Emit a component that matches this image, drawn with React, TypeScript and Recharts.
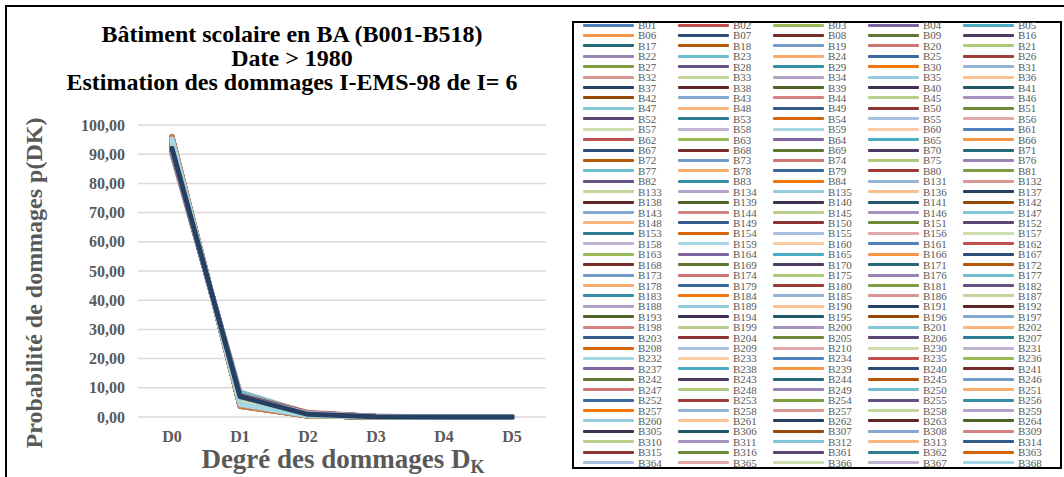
import { LineChart, Line, XAxis, YAxis, CartesianGrid } from "recharts";

const categories = ["D0", "D1", "D2", "D3", "D4", "D5"];

const buildingNames = [
  "B01", "B02", "B03", "B04", "B05",
  "B06", "B07", "B08", "B09", "B16",
  "B17", "B18", "B19", "B20", "B21",
  "B22", "B23", "B24", "B25", "B26",
  "B27", "B28", "B29", "B30", "B31",
  "B32", "B33", "B34", "B35", "B36",
  "B37", "B38", "B39", "B40", "B41",
  "B42", "B43", "B44", "B45", "B46",
  "B47", "B48", "B49", "B50", "B51",
  "B52", "B53", "B54", "B55", "B56",
  "B57", "B58", "B59", "B60", "B61",
  "B62", "B63", "B64", "B65", "B66",
  "B67", "B68", "B69", "B70", "B71",
  "B72", "B73", "B74", "B75", "B76",
  "B77", "B78", "B79", "B80", "B81",
  "B82", "B83", "B84", "B131", "B132",
  "B133", "B134", "B135", "B136", "B137",
  "B138", "B139", "B140", "B141", "B142",
  "B143", "B144", "B145", "B146", "B147",
  "B148", "B149", "B150", "B151", "B152",
  "B153", "B154", "B155", "B156", "B157",
  "B158", "B159", "B160", "B161", "B162",
  "B163", "B164", "B165", "B166", "B167",
  "B168", "B169", "B170", "B171", "B172",
  "B173", "B174", "B175", "B176", "B177",
  "B178", "B179", "B180", "B181", "B182",
  "B183", "B184", "B185", "B186", "B187",
  "B188", "B189", "B190", "B191", "B192",
  "B193", "B194", "B195", "B196", "B197",
  "B198", "B199", "B200", "B201", "B202",
  "B203", "B204", "B205", "B206", "B207",
  "B208", "B209", "B210", "B230", "B231",
  "B232", "B233", "B234", "B235", "B236",
  "B237", "B238", "B239", "B240", "B241",
  "B242", "B243", "B244", "B245", "B246",
  "B247", "B248", "B249", "B250", "B251",
  "B252", "B253", "B254", "B255", "B256",
  "B257", "B258", "B257", "B258", "B259",
  "B260", "B261", "B262", "B263", "B264",
  "B305", "B306", "B307", "B308", "B309",
  "B310", "B311", "B312", "B313", "B314",
  "B315", "B316", "B361", "B362", "B363",
  "B364", "B365", "B366", "B367", "B368",
];

// one value per building, in legend order
const d0Values = [
  93.1, 94.2, 92.8, 96.0, 91.9, 93.7, 92.4, 94.9, 93.3, 95.1, 92.6, 94.4, 91.4, 95.8, 95.9,
  92.9, 90.0, 89.9, 91.7, 95.3, 92.2, 94.0, 93.9, 95.8, 92.5, 93.2, 94.7, 91.2, 93.6, 95.4,
  92.7, 94.3, 93.0, 95.0, 92.1, 93.4, 94.8, 91.6, 93.9, 95.2, 92.3, 94.1, 93.7, 91.1, 95.7,
  93.3, 92.0, 94.5, 95.5, 92.9, 93.1, 94.9, 91.8, 93.5, 96.0, 92.6, 94.2, 93.0, 95.2, 91.5,
  94.0, 92.8, 93.6, 95.4, 91.3, 94.6, 93.2, 92.4, 95.8, 93.9, 90.2, 94.3, 93.4, 91.9, 95.1,
  92.5, 94.8, 93.7, 91.0, 95.6, 93.1, 94.1, 92.7, 93.8, 95.3, 91.7, 94.5, 92.3, 93.5, 96.1,
  93.0, 94.7, 92.0, 95.0, 93.3, 91.4, 94.2, 93.6, 95.7, 92.8, 94.0, 91.6, 93.9, 95.5, 92.4,
  94.4, 93.2, 91.8, 95.2, 92.6, 93.7, 94.9, 92.1, 95.9, 93.4, 91.2, 94.6, 93.0, 95.3, 92.9,
  93.8, 91.5, 94.3, 95.6, 92.7, 93.1, 94.8, 91.9, 93.5, 95.1, 92.2, 94.1, 93.6, 90.9, 95.4,
  92.5, 94.0, 93.3, 95.8, 91.7, 93.9, 94.5, 92.3, 95.0, 93.2, 91.3, 94.7, 92.8, 93.7, 96.0,
  93.4, 92.0, 94.2, 95.5, 91.6, 93.0, 94.9, 92.6, 95.2, 93.8, 91.9, 94.4, 93.1, 95.7, 92.4,
  94.6, 93.5, 91.4, 95.3, 92.9, 93.6, 94.1, 92.2, 95.9, 93.3, 91.8, 94.8, 92.7, 93.9, 95.1,
  92.3, 94.3, 93.7, 91.1, 95.6, 93.2, 94.0, 92.5, 95.4, 93.0, 91.5, 94.5, 92.0, 93.8, 95.0,
  92.8, 94.7, 93.4, 91.7, 95.8, 93.1, 94.2, 92.0, 95.2, 93.6, 91.3, 94.9, 92.6, 93.5, 95.5,
  92.1, 94.4, 93.9, 91.6, 95.3,
];

const d1Values = [
  5.9, 5.1, 6.1, 3.7, 6.6, 5.4, 6.3, 4.5, 5.7, 4.5, 6.3, 4.9, 7.0, 3.9, 3.8,
  6.0, 8.6, 8.4, 6.8, 4.3, 6.5, 5.3, 5.2, 3.9, 6.4, 5.8, 4.7, 7.2, 5.5, 4.2,
  6.2, 5.0, 6.0, 4.6, 6.6, 5.6, 4.6, 6.9, 5.2, 4.4, 6.4, 5.2, 5.4, 7.3, 4.0,
  5.7, 6.7, 4.9, 4.2, 6.0, 5.9, 4.5, 6.7, 5.6, 3.7, 6.3, 5.1, 6.0, 4.4, 7.0,
  5.3, 6.1, 5.5, 4.2, 7.1, 4.8, 5.8, 6.3, 3.9, 5.2, 8.3, 5.0, 5.6, 6.6, 4.5,
  6.4, 4.6, 5.4, 7.4, 4.1, 5.9, 5.2, 6.2, 5.3, 4.3, 6.8, 4.9, 6.4, 5.6, 3.6,
  6.0, 4.7, 6.7, 4.6, 5.7, 7.0, 5.1, 5.5, 4.0, 6.1, 5.3, 6.9, 5.2, 4.2, 6.3,
  4.9, 5.8, 6.7, 4.4, 6.3, 5.4, 4.5, 6.6, 3.8, 5.6, 7.2, 4.8, 6.0, 4.3, 6.0,
  5.3, 7.0, 5.0, 4.1, 6.2, 5.9, 4.6, 6.6, 5.6, 4.5, 6.5, 5.2, 5.5, 7.2, 4.2,
  6.4, 5.3, 5.7, 3.9, 6.8, 5.2, 4.9, 6.4, 4.6, 5.8, 7.1, 4.7, 6.1, 5.4, 3.7,
  5.6, 6.7, 5.1, 4.2, 6.9, 6.0, 4.5, 6.3, 4.4, 5.3, 6.6, 4.9, 5.9, 4.0, 6.3,
  4.8, 5.6, 7.0, 4.3, 6.0, 5.5, 5.2, 6.5, 3.8, 5.7, 6.7, 4.6, 6.2, 5.2, 4.5,
  6.4, 5.0, 5.4, 7.3, 4.1, 5.8, 5.3, 6.4, 4.2, 6.0, 7.0, 4.9, 7.0, 5.3, 4.6,
  6.1, 4.7, 5.6, 6.8, 3.9, 5.9, 5.1, 6.7, 4.4, 5.5, 7.1, 4.5, 6.3, 5.6, 4.2,
  6.6, 4.9, 5.2, 6.9, 4.3,
];

const d2Values = [
  0.9, 0.6, 1.0, 0.3, 1.3, 0.8, 1.1, 0.5, 0.9, 0.4, 1.0, 0.6, 1.4, 0.3, 0.3,
  1.0, 1.2, 1.5, 1.3, 0.4, 1.1, 0.6, 0.8, 0.3, 1.0, 0.9, 0.5, 1.4, 0.8, 0.4,
  1.0, 0.6, 0.9, 0.4, 1.1, 0.9, 0.5, 1.3, 0.8, 0.4, 1.1, 0.6, 0.8, 1.4, 0.3,
  0.9, 1.1, 0.5, 0.3, 1.0, 0.9, 0.5, 1.3, 0.8, 0.3, 1.0, 0.6, 0.9, 0.4, 1.3,
  0.6, 1.0, 0.8, 0.4, 1.4, 0.5, 0.9, 1.1, 0.3, 0.8, 1.3, 0.6, 0.9, 1.3, 0.4,
  1.0, 0.5, 0.8, 1.4, 0.3, 0.9, 0.6, 1.0, 0.8, 0.4, 1.3, 0.5, 1.1, 0.8, 0.3,
  0.9, 0.5, 1.1, 0.4, 0.9, 1.4, 0.6, 0.8, 0.3, 1.0, 0.6, 1.3, 0.8, 0.3, 1.1,
  0.6, 0.9, 1.3, 0.4, 1.0, 0.8, 0.5, 1.1, 0.3, 0.9, 1.4, 0.5, 0.9, 0.4, 1.0,
  0.8, 1.3, 0.6, 0.3, 1.0, 0.9, 0.5, 1.3, 0.8, 0.4, 1.1, 0.6, 0.8, 1.6, 0.4,
  1.0, 0.6, 0.9, 0.3, 1.3, 0.8, 0.5, 1.1, 0.4, 0.9, 1.4, 0.5, 1.0, 0.8, 0.3,
  0.9, 1.1, 0.6, 0.3, 1.3, 0.9, 0.5, 1.0, 0.4, 0.8, 1.3, 0.6, 0.9, 0.3, 1.1,
  0.5, 0.8, 1.4, 0.4, 1.0, 0.8, 0.6, 1.1, 0.3, 0.9, 1.3, 0.5, 1.0, 0.8, 0.4,
  1.1, 0.6, 0.8, 1.4, 0.3, 0.9, 0.6, 1.0, 0.4, 0.9, 1.3, 0.5, 0.9, 0.8, 0.4,
  1.0, 0.5, 0.9, 1.3, 0.3, 0.9, 0.6, 1.1, 0.4, 0.8, 1.4, 0.5, 1.0, 0.8, 0.3,
  1.1, 0.6, 0.8, 1.3, 0.4,
];

const d3Values = [
  0.1, 0.1, 0.1, 0.0, 0.2, 0.1, 0.2, 0.1, 0.1, 0.0, 0.1, 0.1, 0.2, 0.0, 0.0,
  0.1, 0.2, 0.2, 0.2, 0.0, 0.2, 0.1, 0.1, 0.0, 0.1, 0.1, 0.1, 0.2, 0.1, 0.0,
  0.1, 0.1, 0.1, 0.0, 0.2, 0.1, 0.1, 0.2, 0.1, 0.0, 0.2, 0.1, 0.1, 0.2, 0.0,
  0.1, 0.2, 0.1, 0.0, 0.1, 0.1, 0.1, 0.2, 0.1, 0.0, 0.1, 0.1, 0.1, 0.0, 0.2,
  0.1, 0.1, 0.1, 0.0, 0.2, 0.1, 0.1, 0.2, 0.0, 0.1, 0.2, 0.1, 0.1, 0.2, 0.0,
  0.1, 0.1, 0.1, 0.2, 0.0, 0.1, 0.1, 0.1, 0.1, 0.0, 0.2, 0.1, 0.2, 0.1, 0.0,
  0.1, 0.1, 0.2, 0.0, 0.1, 0.2, 0.1, 0.1, 0.0, 0.1, 0.1, 0.2, 0.1, 0.0, 0.2,
  0.1, 0.1, 0.2, 0.0, 0.1, 0.1, 0.1, 0.2, 0.0, 0.1, 0.2, 0.1, 0.1, 0.0, 0.1,
  0.1, 0.2, 0.1, 0.0, 0.1, 0.1, 0.1, 0.2, 0.1, 0.0, 0.2, 0.1, 0.1, 0.3, 0.0,
  0.1, 0.1, 0.1, 0.0, 0.2, 0.1, 0.1, 0.2, 0.0, 0.1, 0.2, 0.1, 0.1, 0.1, 0.0,
  0.1, 0.2, 0.1, 0.0, 0.2, 0.1, 0.1, 0.1, 0.0, 0.1, 0.2, 0.1, 0.1, 0.0, 0.2,
  0.1, 0.1, 0.2, 0.0, 0.1, 0.1, 0.1, 0.2, 0.0, 0.1, 0.2, 0.1, 0.1, 0.1, 0.0,
  0.2, 0.1, 0.1, 0.2, 0.0, 0.1, 0.1, 0.1, 0.0, 0.1, 0.2, 0.1, 0.1, 0.1, 0.0,
  0.1, 0.1, 0.1, 0.2, 0.0, 0.1, 0.1, 0.2, 0.0, 0.1, 0.2, 0.1, 0.1, 0.1, 0.0,
  0.2, 0.1, 0.1, 0.2, 0.0,
];

const d4Values = [
  0, 0, 0, 0, 0, 0, 0, 0, 0, 0, 0, 0, 0, 0, 0,
  0, 0, 0, 0, 0, 0, 0, 0, 0, 0, 0, 0, 0, 0, 0,
  0, 0, 0, 0, 0, 0, 0, 0, 0, 0, 0, 0, 0, 0, 0,
  0, 0, 0, 0, 0, 0, 0, 0, 0, 0, 0, 0, 0, 0, 0,
  0, 0, 0, 0, 0, 0, 0, 0, 0, 0, 0, 0, 0, 0, 0,
  0, 0, 0, 0, 0, 0, 0, 0, 0, 0, 0, 0, 0, 0, 0,
  0, 0, 0, 0, 0, 0, 0, 0, 0, 0, 0, 0, 0, 0, 0,
  0, 0, 0, 0, 0, 0, 0, 0, 0, 0, 0, 0, 0, 0, 0,
  0, 0, 0, 0, 0, 0, 0, 0, 0, 0, 0, 0, 0, 0, 0,
  0, 0, 0, 0, 0, 0, 0, 0, 0, 0, 0, 0, 0, 0, 0,
  0, 0, 0, 0, 0, 0, 0, 0, 0, 0, 0, 0, 0, 0, 0,
  0, 0, 0, 0, 0, 0, 0, 0, 0, 0, 0, 0, 0, 0, 0,
  0, 0, 0, 0, 0, 0, 0, 0, 0, 0, 0, 0, 0, 0, 0,
  0, 0, 0, 0, 0, 0, 0, 0, 0, 0, 0, 0, 0, 0, 0,
  0, 0, 0, 0, 0,
];

const d5Values = [
  0, 0, 0, 0, 0, 0, 0, 0, 0, 0, 0, 0, 0, 0, 0,
  0, 0, 0, 0, 0, 0, 0, 0, 0, 0, 0, 0, 0, 0, 0,
  0, 0, 0, 0, 0, 0, 0, 0, 0, 0, 0, 0, 0, 0, 0,
  0, 0, 0, 0, 0, 0, 0, 0, 0, 0, 0, 0, 0, 0, 0,
  0, 0, 0, 0, 0, 0, 0, 0, 0, 0, 0, 0, 0, 0, 0,
  0, 0, 0, 0, 0, 0, 0, 0, 0, 0, 0, 0, 0, 0, 0,
  0, 0, 0, 0, 0, 0, 0, 0, 0, 0, 0, 0, 0, 0, 0,
  0, 0, 0, 0, 0, 0, 0, 0, 0, 0, 0, 0, 0, 0, 0,
  0, 0, 0, 0, 0, 0, 0, 0, 0, 0, 0, 0, 0, 0, 0,
  0, 0, 0, 0, 0, 0, 0, 0, 0, 0, 0, 0, 0, 0, 0,
  0, 0, 0, 0, 0, 0, 0, 0, 0, 0, 0, 0, 0, 0, 0,
  0, 0, 0, 0, 0, 0, 0, 0, 0, 0, 0, 0, 0, 0, 0,
  0, 0, 0, 0, 0, 0, 0, 0, 0, 0, 0, 0, 0, 0, 0,
  0, 0, 0, 0, 0, 0, 0, 0, 0, 0, 0, 0, 0, 0, 0,
  0, 0, 0, 0, 0,
];

const yTicks = [0, 10, 20, 30, 40, 50, 60, 70, 80, 90, 100];

const titleLines = [
  "Bâtiment scolaire en BA (B001-B518)",
  "Date > 1980",
  "Estimation des dommages I-EMS-98 de I= 6",
];

// the series drawn last, on top of the bundle
const topSeriesName = "B262";

// Office 2007 accents, then Excel's lumMod / lumOff cycle
const accentColors = ["#4F81BD", "#C0504D", "#9BBB59", "#8064A2", "#4BACC6", "#F79646"];
const lumSteps = [
  [1, 0], [0.6, 0], [0.8, 0.2], [0.8, 0], [0.6, 0.4],
  [0.5, 0], [0.7, 0.3], [0.7, 0], [0.5, 0.5],
];

function toHsl(hex: string) {
  const r = parseInt(hex.slice(1, 3), 16) / 255;
  const g = parseInt(hex.slice(3, 5), 16) / 255;
  const b = parseInt(hex.slice(5, 7), 16) / 255;
  const max = Math.max(r, g, b);
  const min = Math.min(r, g, b);
  const l = (max + min) / 2;
  const d = max - min;
  let h = 0;
  let s = 0;
  if (d > 0) {
    s = d / (1 - Math.abs(2 * l - 1));
    if (max === r) h = ((g - b) / d) % 6;
    else if (max === g) h = (b - r) / d + 2;
    else h = (r - g) / d + 4;
    h *= 60;
    if (h < 0) h += 360;
  }
  return [h, s, l];
}

function seriesColor(i: number) {
  const k = i % 54;
  const [mod, off] = lumSteps[Math.floor(k / 6)];
  const [h, s, l] = toHsl(accentColors[k % 6]);
  const nl = Math.min(1, l * mod + off);
  return `hsl(${h.toFixed(1)}, ${(s * 100).toFixed(1)}%, ${(nl * 100).toFixed(1)}%)`;
}

const degreeValues = [d0Values, d1Values, d2Values, d3Values, d4Values, d5Values];

const chartData = categories.map((cat, j) => {
  const row: Record<string, number | string> = { cat };
  buildingNames.forEach((_, i) => {
    row[`s${i}`] = degreeValues[j][i];
  });
  return row;
});

const topIndex = buildingNames.indexOf(topSeriesName);
const drawOrder = buildingNames.map((_, i) => i).filter((i) => i !== topIndex).concat(topIndex);

const serif = '"Liberation Serif", "Times New Roman", serif';
const textGrey = "#595959";

const formatTick = (v: number) => v.toFixed(2).replace(".", ",");

function YTitle() {
  return (
    <text
      x={35}
      y={276}
      transform="rotate(-90 35 276)"
      textAnchor="middle"
      fontFamily={serif}
      fontWeight="bold"
      fontSize={24}
      fill={textGrey}
    >
      Probabilité de dommages p(DK)
    </text>
  );
}

function XTitle() {
  return (
    <text
      x={336}
      y={461}
      textAnchor="middle"
      fontFamily={serif}
      fontWeight="bold"
      fontSize={27}
      fill={textGrey}
    >
      Degré des dommages D
      <tspan fontSize={18} dy={5}>K</tspan>
    </text>
  );
}

function BuildingLegend() {
  return (
    <div style={legendBoxStyle}>
      {buildingNames.map((name, i) => (
        <div
          key={i}
          style={{
            position: "absolute",
            left: 9 + (i % 5) * 95,
            top: -3 + Math.floor(i / 5) * 10.42,
            height: 10,
            display: "flex",
            alignItems: "center",
          }}
        >
          <div style={{ width: 51, height: 3, background: seriesColor(i), borderRadius: 1 }} />
          <span style={legendLabelStyle}>{name}</span>
        </div>
      ))}
    </div>
  );
}

export default function App() {
  return (
    <div style={frameStyle}>
      <div style={titleStyle}>
        {titleLines.map((t) => (
          <div key={t}>{t}</div>
        ))}
      </div>
      <LineChart
        width={1057}
        height={470}
        data={chartData}
        margin={{ top: 118, right: 518, bottom: 30, left: 71 }}
      >
        <CartesianGrid horizontal vertical={false} stroke="#d9d9d9" strokeWidth={1.5} />
        <XAxis
          dataKey="cat"
          height={30}
          padding={{ left: 34, right: 34 }}
          axisLine={false}
          tickLine={false}
          tickMargin={8}
          tick={{ fontSize: 16, fontWeight: "bold", fill: textGrey, fontFamily: serif }}
          label={<XTitle />}
        />
        <YAxis
          width={60}
          domain={[0, 100]}
          ticks={yTicks}
          interval={0}
          axisLine={false}
          tickLine={false}
          tickMargin={7}
          tickFormatter={formatTick}
          tick={{ fontSize: 16, fontWeight: "bold", fill: textGrey, fontFamily: serif }}
          label={<YTitle />}
        />
        {drawOrder.map((i) => (
          <Line
            key={i}
            type="linear"
            dataKey={`s${i}`}
            name={buildingNames[i]}
            stroke={seriesColor(i)}
            strokeWidth={5}
            strokeLinejoin="round"
            strokeLinecap="round"
            dot={false}
            activeDot={false}
            isAnimationActive={false}
          />
        ))}
      </LineChart>
      <BuildingLegend />
    </div>
  );
}

const frameStyle: React.CSSProperties = {
  position: "absolute",
  left: 5,
  top: 5,
  width: 1059,
  height: 472,
  boxSizing: "border-box",
  borderLeft: "2px solid #000",
  borderTop: "2px solid #000",
  background: "#fff",
  overflow: "hidden",
};

const titleStyle: React.CSSProperties = {
  position: "absolute",
  left: 0,
  top: 15,
  width: 570,
  textAlign: "center",
  fontFamily: serif,
  fontWeight: "bold",
  fontSize: 24,
  lineHeight: "24px",
  color: "#000",
};

const legendBoxStyle: React.CSSProperties = {
  position: "absolute",
  left: 565,
  top: 14,
  width: 490,
  height: 448,
  boxSizing: "border-box",
  border: "2px solid #000",
  background: "#fff",
};

const legendLabelStyle: React.CSSProperties = {
  marginLeft: 4,
  fontFamily: serif,
  fontSize: 11,
  lineHeight: "10px",
  color: textGrey,
  whiteSpace: "nowrap",
};
